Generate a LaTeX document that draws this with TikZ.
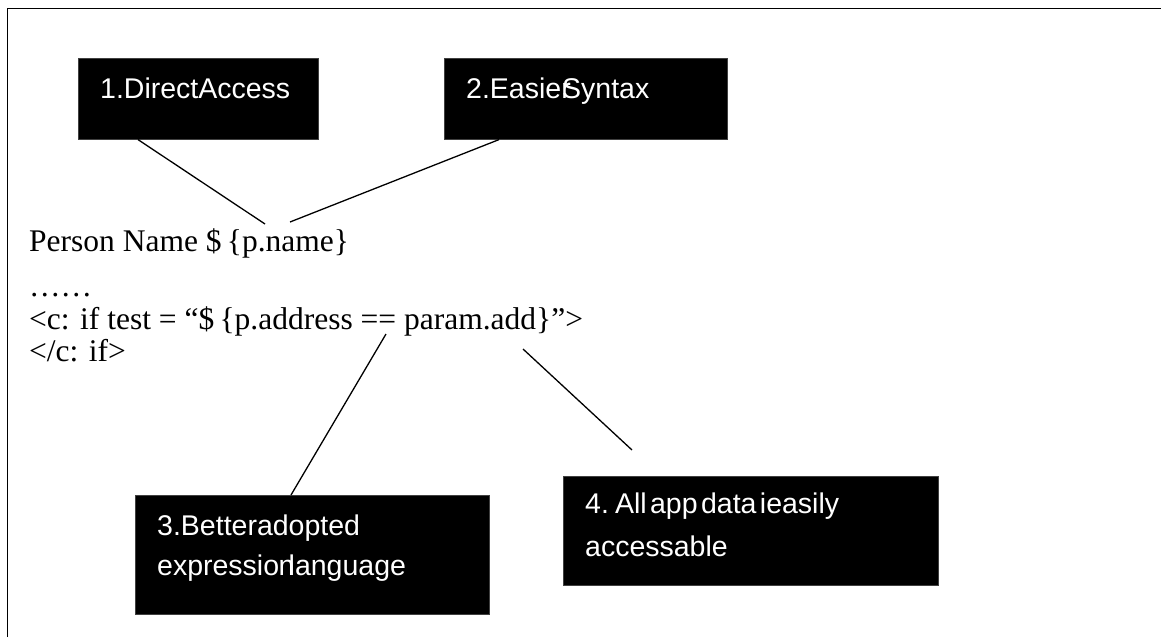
\documentclass[tikz,border=0pt]{standalone}
\usepackage{fontspec}
\setmainfont{Liberation Serif}
\newfontfamily\labelfont{Liberation Sans}
\begin{document}
\begin{tikzpicture}[x=1pt,y=-1pt,
  box/.style={fill=black, draw=black!75, line width=0.6pt, anchor=north west, inner sep=0pt},
  boxtext/.style={text=white, font=\labelfont\fontsize{28.5}{34}\selectfont, anchor=base west, inner sep=0pt},
  code/.style={font=\fontsize{31.5}{37}\selectfont, anchor=base west, inner sep=0pt},
  link/.style={line width=1.3pt}]
\useasboundingbox (0,0) rectangle (1161,637);
\draw[line width=1.8pt] (7.5,637) -- (7.5,8.5) -- (1161,8.5);
% boxes
\node[box, minimum width=240pt, minimum height=81pt] (b1) at (78,58) {};
\node[boxtext] (t1) at (100,98) {1.DirectAccess};
\node[box, minimum width=283pt, minimum height=81pt] (b2) at (444,58) {};
\node[boxtext] (t2) at (466,98) {2.Easier\kern-0.3em Syntax};
\node[box, minimum width=354pt, minimum height=119pt] (b3) at (135,495) {};
\node[boxtext] (t3a) at (157,535) {3.Betteradopted};
\node[boxtext] (t3b) at (157,575) {expressio\kern-0.02em n\kern-0.2em language};
\node[box, minimum width=375pt, minimum height=109pt] (b4) at (563,476) {};
\node[boxtext] (t4a) at (585,513) {\spaceskip=0.12em 4. All app data ieasily};
\node[boxtext] (t4b) at (585,556) {accessable};
% code text
\node[code] (c1) at (29,251) {Person Name \$\,\{p.name\}};
\node[code] (c2) at (29,296) {……};
\node[code] (c3) at (29,329) {<c: if test = “\$\,\{p.address == param.add\}”>};
\node[code] (c4) at (29,361) {</c: if>};
% connector end points on the text
\coordinate (p1) at (265,224);
\coordinate (p2) at (290,222);
\coordinate (p3) at (386,334);
\coordinate (p4) at (523,349);
\coordinate (p4e) at (632,450);
% connectors
\draw[link] ([xshift=60pt]b1.south west) -- (p1);
\draw[link] ([xshift=55pt]b2.south west) -- (p2);
\draw[link] ([xshift=156pt]b3.north west) -- (p3);
\draw[link] (p4) -- (p4e);
\end{tikzpicture}
\end{document}
